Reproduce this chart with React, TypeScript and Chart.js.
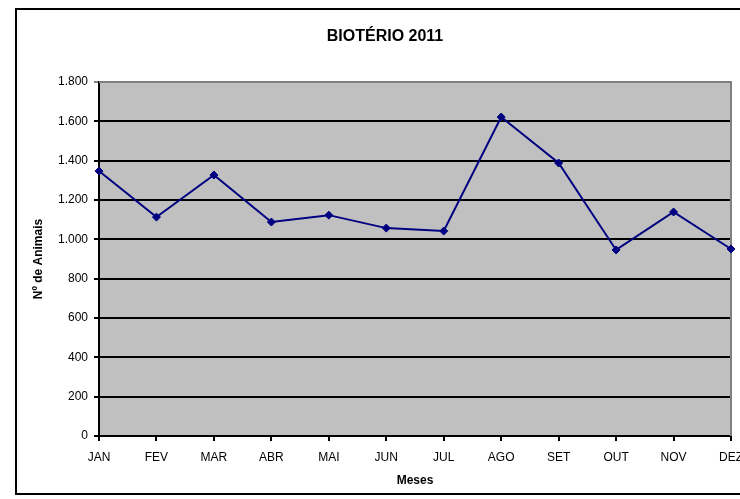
import { useEffect, useRef } from "react";
import { Chart, registerables } from "chart.js";

Chart.register(...registerables);

const months = ["JAN", "FEV", "MAR", "ABR", "MAI", "JUN", "JUL", "AGO", "SET", "OUT", "NOV", "DEZ"];
const animals = [1347, 1113, 1327, 1088, 1123, 1057, 1042, 1622, 1388, 946, 1139, 951];
const yMin = 0;
const yMax = 1800;
const yStep = 200;
const titleText = "BIOTÉRIO 2011";
const xTitle = "Meses";
const yTitle = "Nº de Animais";

const FONT = "'Liberation Sans', Arial, sans-serif";

const fmt = (v: number) => String(v).replace(/\B(?=(\d{3})+(?!\d))/g, ".");

const framePlugin = {
  id: "frame",
  beforeDraw(chart: any) {
    const { ctx, chartArea } = chart;
    ctx.save();
    ctx.fillStyle = "#ffffff";
    ctx.fillRect(0, 0, chart.width, chart.height);
    ctx.fillStyle = "#000000";
    ctx.fillRect(15, 8, 2, 487);
    ctx.fillRect(15, 8, 800, 2);
    ctx.fillRect(15, 493, 800, 2);
    ctx.fillStyle = "#C0C0C0";
    ctx.fillRect(chartArea.left, chartArea.top, chartArea.right - chartArea.left, chartArea.bottom - chartArea.top);
    ctx.restore();
  },
  beforeDatasetsDraw(chart: any) {
    const { ctx, chartArea } = chart;
    ctx.save();
    ctx.strokeStyle = "#808080";
    ctx.lineWidth = 2;
    ctx.beginPath();
    ctx.moveTo(chartArea.left, chartArea.top);
    ctx.lineTo(chartArea.right, chartArea.top);
    ctx.lineTo(chartArea.right, chartArea.bottom);
    ctx.stroke();
    ctx.restore();
  },
};

export default function App() {
  const ref = useRef<HTMLCanvasElement | null>(null);

  useEffect(() => {
    if (!ref.current) return;
    const chart = new Chart(ref.current, {
      type: "line",
      data: {
        labels: months,
        datasets: [
          {
            data: animals,
            borderColor: "#000080",
            backgroundColor: "#000080",
            borderWidth: 2,
            pointStyle: "rectRot",
            pointRadius: 4,
            pointBackgroundColor: "#000080",
            pointBorderColor: "#000080",
            pointBorderWidth: 1,
            tension: 0,
            clip: false as any,
          },
        ],
      },
      options: {
        animation: false,
        responsive: false,
        events: [],
        layout: { padding: { left: 30, right: 0, top: 10, bottom: 0 } },
        plugins: {
          legend: { display: false },
          tooltip: { enabled: false },
          title: {
            display: true,
            text: titleText,
            color: "#000000",
            font: { family: FONT, size: 16, weight: "bold" },
            padding: { top: 17, bottom: 35.8 },
          },
        },
        scales: {
          x: {
            offset: false,
            grid: {
              drawOnChartArea: false,
              drawTicks: true,
              tickLength: 5,
              color: "#000000",
              lineWidth: 2,
            },
            border: { display: true, color: "#000000", width: 2 },
            ticks: {
              color: "#000000",
              font: { family: FONT, size: 12 },
              padding: 9,
              maxRotation: 0,
              autoSkip: false,
            },
            title: {
              display: true,
              text: xTitle,
              color: "#000000",
              font: { family: FONT, size: 12, weight: "bold" },
              padding: { top: 0, bottom: 11 },
            },
            afterFit(scale: any) {
              scale.height = 63;
              scale.paddingRight = 9;
            },
          },
          y: {
            min: yMin,
            max: yMax,
            grid: {
              color: (c: any) => (c.tick && c.tick.value === yMax ? "#808080" : "#000000"),
              lineWidth: 2,
              tickLength: 5,
            },
            border: { display: true, color: "#000000", width: 2 },
            ticks: {
              stepSize: yStep,
              color: "#000000",
              font: { family: FONT, size: 12 },
              padding: 6,
              callback: (v: any) => fmt(Number(v)),
            },
            title: {
              display: true,
              text: yTitle,
              color: "#000000",
              font: { family: FONT, size: 12, weight: "bold" },
              padding: { top: 1, bottom: 0 },
            },
            afterFit(scale: any) {
              scale.width = 69;
            },
          },
        },
      },
      plugins: [framePlugin],
    });
    return () => chart.destroy();
  }, []);

  return (
    <div style={{ position: "fixed", left: 0, top: 0, width: 740, height: 499 }}>
      <canvas ref={ref} width={740} height={499} style={{ width: 740, height: 499 }} />
    </div>
  );
}
